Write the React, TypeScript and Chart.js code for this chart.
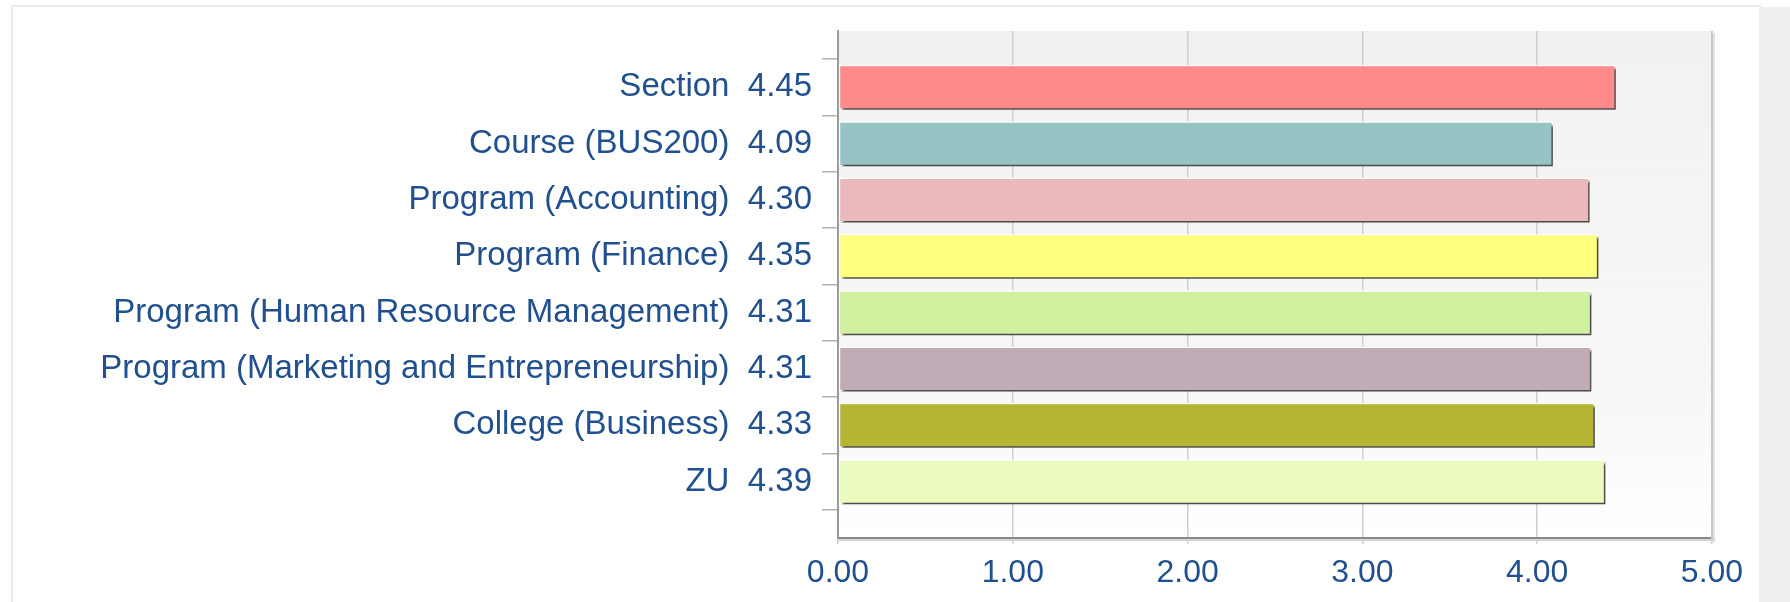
import React, { useEffect, useRef } from "react";
import { Chart, registerables } from "chart.js";

Chart.register(...registerables);

const categories = [
  "Section",
  "Course (BUS200)",
  "Program (Accounting)",
  "Program (Finance)",
  "Program (Human Resource Management)",
  "Program (Marketing and Entrepreneurship)",
  "College (Business)",
  "ZU",
];
const values = [4.45, 4.09, 4.3, 4.35, 4.31, 4.31, 4.33, 4.39];
const barColors = [
  "#FF8A8A",
  "#96C4C4",
  "#EBB8BB",
  "#FFFF80",
  "#CFF09E",
  "#C1ABB7",
  "#B5B533",
  "#EBFBBE",
];
const xTicks = [0, 1, 2, 3, 4, 5];

const FONT = "'Liberation Sans', Arial, sans-serif";
const TEXT = "#20508f";

const bgPlugin = {
  id: "bgPlugin",
  beforeDraw(chart: any) {
    const { ctx, chartArea: a } = chart;
    if (!a) return;
    ctx.save();
    const g = ctx.createLinearGradient(0, a.top, 0, a.bottom);
    g.addColorStop(0, "#f1f1f1");
    g.addColorStop(0.75, "#f8f8f8");
    g.addColorStop(1, "#ffffff");
    ctx.fillStyle = g;
    ctx.fillRect(a.left, a.top, a.right - a.left, a.bottom - a.top);
    ctx.restore();
  },
  afterDraw(chart: any) {
    const { ctx, chartArea: a } = chart;
    ctx.save();
    ctx.fillStyle = "#c8c8c8";
    ctx.fillRect(a.right - 1, a.top, 2, a.bottom - a.top + 2);
    ctx.fillStyle = "#e2e2e2";
    ctx.fillRect(a.right + 1, a.top + 2, 2, a.bottom - a.top + 2);
    ctx.fillStyle = "#d6d6d6";
    ctx.fillRect(a.left, a.bottom + 1, a.right - a.left + 3, 2);
    ctx.restore();
  },
};

const shadowPlugin = {
  id: "shadowPlugin",
  beforeDatasetsDraw(chart: any) {
    const ctx = chart.ctx;
    ctx.save();
    ctx.shadowColor = "rgba(0,0,0,0.7)";
    ctx.shadowOffsetX = 3;
    ctx.shadowOffsetY = 3;
    ctx.shadowBlur = 2;
  },
  afterDatasetsDraw(chart: any) {
    chart.ctx.restore();
  },
};

export default function App() {
  const ref = useRef<HTMLCanvasElement | null>(null);

  useEffect(() => {
    if (!ref.current) return;
    const labels = ["", ...categories.map((c, i) => `${c}  ${values[i].toFixed(2)}`), ""];
    const data = [null, ...values, null];
    const colors = ["#fff", ...barColors, "#fff"];
    const chart = new Chart(ref.current, {
      type: "bar",
      data: {
        labels,
        datasets: [
          {
            data: data as any,
            backgroundColor: colors,
            borderColor: "#ffffff",
            borderWidth: 1.5,
            borderSkipped: false,
            barPercentage: 0.8,
            categoryPercentage: 1,
          },
        ],
      },
      options: {
        indexAxis: "y",
        animation: false,
        responsive: false,
        maintainAspectRatio: false,
        layout: { padding: { left: 0, top: 31, right: 78, bottom: 0 } },
        plugins: { legend: { display: false }, tooltip: { enabled: false } },
        scales: {
          x: {
            type: "linear",
            min: 0,
            max: 5,
            afterBuildTicks(scale: any) {
              scale.ticks = xTicks.map((v) => ({ value: v }));
            },
            afterFit(scale: any) {
              scale.height = 64;
            },
            grid: {
              color: "#cfcfcf",
              lineWidth: 1.5,
              tickLength: 6,
              drawOnChartArea: true,
            },
            border: { color: "#8a8a8a", width: 2 },
            ticks: {
              padding: 10,
              color: TEXT,
              font: { family: FONT, size: 32 },
              callback: (v: any) => Number(v).toFixed(2),
            },
          },
          y: {
            type: "category",
            offset: false,
            afterFit(scale: any) {
              scale.width = 838;
            },
            grid: {
              drawOnChartArea: false,
              color: "#b0b0b0",
              lineWidth: 1.5,
              tickLength: 16,
            },
            border: { color: "#9a9a9a", width: 2 },
            ticks: {
              padding: 10,
              autoSkip: false,
              color: TEXT,
              font: { family: FONT, size: 33 },
            },
          },
        },
      },
      plugins: [bgPlugin, shadowPlugin],
    });
    return () => chart.destroy();
  }, []);

  return (
    <div style={{ position: "absolute", left: 0, top: 0, width: 1790, height: 602, background: "#fff", overflow: "hidden" }}>
      <div
        style={{
          position: "absolute",
          left: 11,
          top: 5,
          width: 1748,
          height: 600,
          borderLeft: "2px solid #ebebeb",
          borderTop: "2px solid #ebebeb",
        }}
      />
      <div style={{ position: "absolute", left: 1759, top: 7, width: 31, height: 595, background: "#efefef" }} />
      <canvas ref={ref} width={1790} height={602} style={{ position: "absolute", left: 0, top: 0, width: 1790, height: 602 }} />
    </div>
  );
}
